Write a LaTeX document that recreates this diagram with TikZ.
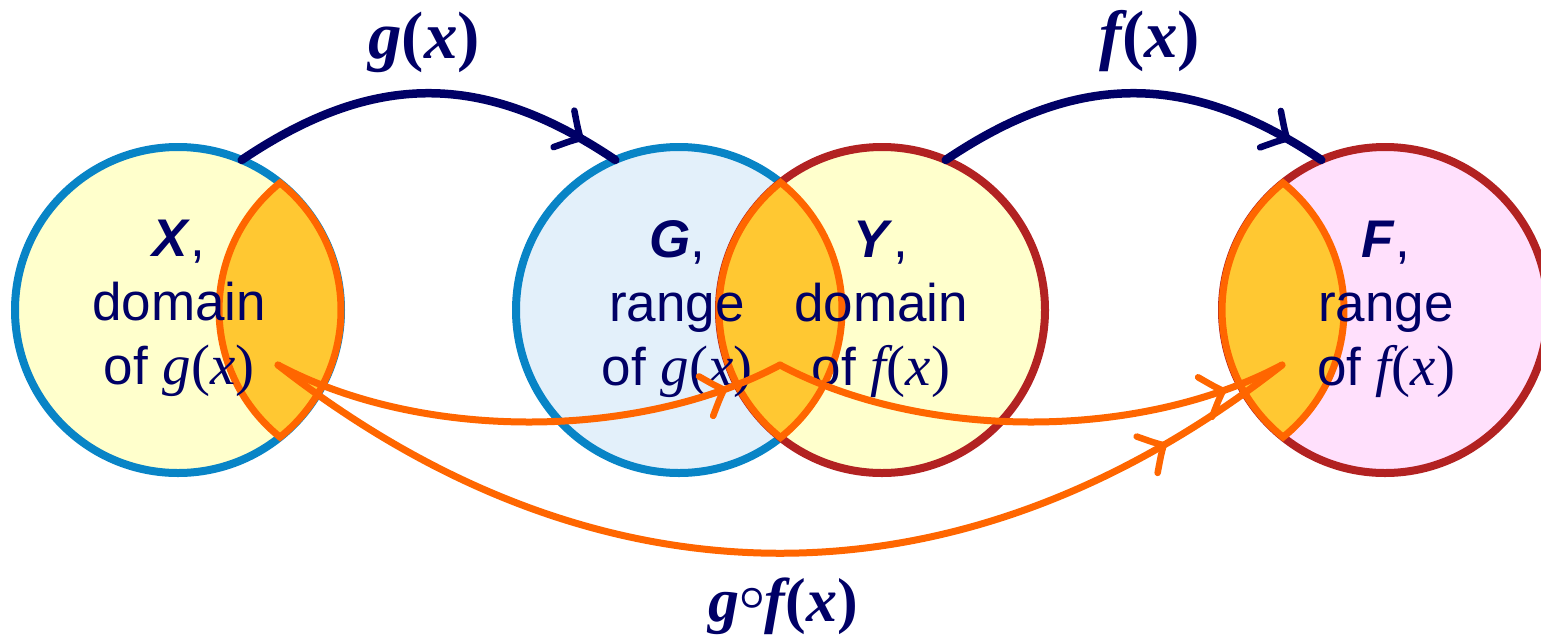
\documentclass[tikz,border=0pt]{standalone}
\usepackage{fontspec}
\usepackage{graphicx}
\setmainfont{Liberation Sans}
\newfontfamily\srf{Liberation Serif}
\usetikzlibrary{decorations.markings}
\definecolor{navy}{RGB}{0,0,102}
\definecolor{bluebd}{RGB}{8,132,198}
\definecolor{redbd}{RGB}{178,34,34}
\definecolor{yelfill}{RGB}{255,255,204}
\definecolor{bluefill}{RGB}{227,240,250}
\definecolor{pinkfill}{RGB}{255,224,252}
\definecolor{lensfill}{RGB}{255,200,50}
\definecolor{lensline}{RGB}{255,102,0}
\newcommand\mi[1]{{\fontsize{57}{64}\selectfont\srf\itshape #1}}
\newcommand\mup[1]{{\fontsize{57}{64}\selectfont\srf #1}}
\newcommand\bi[1]{{\srf\bfseries\itshape #1}}
\newcommand\bu[1]{{\srf\bfseries #1}}
\begin{document}
\begin{tikzpicture}[x=1pt,y=-1pt,
  setc/.style={circle, minimum size=326pt, inner sep=0pt, outer sep=0pt, line width=8pt},
  lens/.style={fill=lensfill, draw=lensline, line width=7pt, line join=miter},
  lbl/.style={text=navy, align=center, inner sep=0pt, font=\fontsize{53}{64}\selectfont},
  toplbl/.style={text=navy, inner sep=0pt, anchor=base, font=\fontsize{67}{70}\selectfont},
  barb/.style n args={2}{postaction={decorate}, decoration={markings, mark=at position #1 with {\draw[draw=#2, line width=6.5pt, line cap=round, line join=round] (-19pt,21pt) .. controls (-7pt,7pt) .. (0pt,0pt) .. controls (-7pt,-7pt) .. (-19pt,-21pt);}}},
  map/.style={draw=navy, line width=8.5pt, line cap=round},
  comp/.style={draw=lensline, line width=7pt, line cap=round}]
\useasboundingbox (0,0) rectangle (1541,638);
\clip (0,0) rectangle (1541,638);
% sets
\node[setc, fill=yelfill, draw=bluebd] (X) at (178,310) {};
\node[setc, fill=bluefill, draw=bluebd] (G) at (679,310) {};
\node[setc, fill=yelfill, draw=redbd] (Y) at (882,310) {};
\node[setc, fill=pinkfill, draw=redbd] (F) at (1385,310) {};
% lenses
\draw[lens] (X.center) ++(-51.25:163) arc[start angle=-51.25, end angle=51.25, radius=163]
  arc[start angle=128.75, end angle=231.25, radius=163] -- cycle;
\draw[lens] (G.center) ++(-51.48:163) arc[start angle=-51.48, end angle=51.48, radius=163]
  arc[start angle=128.52, end angle=231.48, radius=163] -- cycle;
\draw[lens] (F.center) ++(-204,0) ++(-51.25:163) arc[start angle=-51.25, end angle=51.25, radius=163]
  arc[start angle=128.75, end angle=231.25, radius=163] -- cycle;
% texts
\node[lbl] (tX) at (179,308) {\strut\textbf{\textit{X}},\\\strut domain\\\strut of \mi{g}\mup{(}\mi{x}\mup{)}};
\node[lbl] (tG) at (677,309) {\strut\textbf{\textit{G}},\\\strut range\\\strut of \mi{g}\mup{(}\mi{x}\mup{)}};
\node[lbl] (tY) at (881,309) {\strut\textbf{\textit{Y}},\\\strut domain\\\strut of \mi{f}\mup{(}\mi{x}\mup{)}};
\node[lbl] (tF) at (1386,309) {\strut\textbf{\textit{F}},\\\strut range\\\strut of \mi{f}\mup{(}\mi{x}\mup{)}};
% map arrows
\draw[map, barb={0.898}{navy}] (X.67) .. controls +(132,-89) and +(-132,-89) .. (G.113);
\draw[map, barb={0.9}{navy}] (Y.67) .. controls +(132,-89) and +(-132,-89) .. (F.113);
\node[toplbl] (lg) at (424,58) {\bi{g}\bu{(}\bi{x}\bu{)}};
\node[toplbl] (lf) at (1150,57) {\bi{f}\bu{(}\bi{x}\bu{)}};
% composition arrows
\coordinate (pX) at (278,365);
\coordinate (pGY) at (780,365);
\coordinate (pF) at (1282,365);
\draw[comp, barb={0.882}{lensline}] (pX) .. controls +(143,76) and +(-143,76) .. (pGY);
\draw[comp, barb={0.876}{lensline}] (pGY) .. controls +(143,76) and +(-143,76) .. (pF);
\draw[comp, barb={0.869}{lensline}] (pX) .. controls +(321,251) and +(-321,251) .. (pF);
\node[toplbl, font=\fontsize{62}{64}\selectfont] (lgf) at (783,621) {\bi{g}\raisebox{0.18em}{\scalebox{1.8}{\boldmath$\circ$}}\bi{f}\bu{(}\bi{x}\bu{)}};
\end{tikzpicture}
\end{document}
